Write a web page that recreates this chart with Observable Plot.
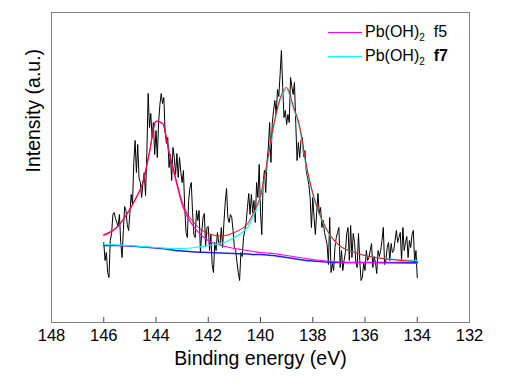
<!DOCTYPE html>
<html><head><meta charset="utf-8">
<script src="https://cdn.jsdelivr.net/npm/d3@7"></script>
<script src="https://cdn.jsdelivr.net/npm/@observablehq/plot@0.6"></script>
<style>
body{margin:0;background:#fff;}
#wrap{position:relative;width:512px;height:381px;font-family:"Liberation Sans",Arial,sans-serif;overflow:hidden;}
.sw{position:absolute;left:328px;width:34px;height:0;}
.lg{position:absolute;left:365px;font-size:16px;line-height:16px;color:#000;white-space:pre;}
.lg sub{font-size:10px;vertical-align:-4px;line-height:0;}
</style>
</head><body><div id="wrap"></div>
<script>
// x ticks
const xTicks = [148, 146, 144, 142, 140, 138, 136, 134, 132];
// raw spectrum: 146.0 -> 134.0 eV, 0.05 eV step (intensity, a.u.)
const rawStart = 146.0, rawStep = 0.05;
const rawIntensity = [
  80, 62, 70, 50, 45, 82, 89, 108, 110, 104,
  100, 96, 108, 80, 65, 92, 116, 112, 98, 92,
  109, 128, 118, 160, 182, 150, 178, 145, 140, 125,
  140, 150, 127, 170, 229, 195, 209, 185, 200, 168,
  192, 165, 200, 218, 229, 219, 225, 190, 179, 185,
  155, 168, 142, 175, 165, 148, 169, 145, 165, 150,
  140, 152, 115, 90, 85, 122, 135, 140, 110, 88,
  85, 112, 102, 112, 70, 90, 105, 109, 76, 95,
  96, 72, 88, 58, 50, 80, 72, 90, 80, 78,
  95, 75, 100, 120, 134, 105, 100, 108, 105, 92,
  75, 72, 60, 50, 42, 70, 66, 85, 92, 100,
  115, 129, 108, 128, 110, 122, 100, 140, 125, 158,
  110, 88, 139, 152, 130, 160, 175, 200, 160, 199,
  212, 222, 208, 233, 226, 248, 272, 235, 205, 212,
  198, 208, 200, 245, 236, 228, 240, 199, 162, 180,
  165, 182, 185, 166, 172, 152, 145, 138, 125, 95,
  125, 105, 88, 110, 129, 109, 115, 95, 102, 90,
  84, 78, 58, 105, 50, 59, 52, 75, 85, 90,
  95, 55, 72, 52, 62, 70, 89, 95, 62, 97,
  65, 89, 80, 60, 55, 89, 62, 42, 45, 60,
  52, 72, 62, 65, 72, 79, 55, 66, 60, 49,
  72, 66, 72, 82, 95, 58, 62, 75, 80, 62,
  79, 70, 72, 82, 92, 80, 85, 90, 62, 95,
  72, 80, 86, 65, 82, 75, 88, 92, 60, 72,
  45
];
// fitted curves sampled at these energies
const fitEnergy = [146, 145.5, 145, 144.75, 144.5, 144.25, 144, 143.75, 143.5, 143.25, 143, 142.5, 142, 141.5, 141, 140.75, 140.5, 140.25, 140, 139.75, 139.5, 139.25, 139, 138.75, 138.5, 138.25, 138, 137.5, 137, 136.5, 136, 135, 134];
const background = [77, 77, 76.5, 76, 75.5, 75, 74.5, 74, 73, 72, 71.5, 70.5, 70, 69.5, 69, 68.7, 68.5, 68, 68, 67.5, 67, 66, 65, 64, 63, 62, 61.5, 60.5, 60, 60, 60, 60, 60];
const f5 = [87, 95, 113, 125, 140, 170, 201, 199, 170, 143, 118, 94, 82, 77, 74, 73, 72, 71, 70, 69.5, 69, 68, 67, 66, 65, 64, 63, 61.5, 60.5, 60, 60, 59.5, 59];
const f7 = [78, 77.5, 77, 76.5, 76, 75.5, 75, 74.5, 74, 74, 74, 75, 77, 79, 85, 89, 95, 108, 125, 158, 195, 222, 233, 215, 194, 156, 128, 94, 77, 71, 67, 63.5, 62];
const envelope = [88, 95.5, 113.5, 125.5, 140.5, 170.5, 201.5, 199.5, 171, 145, 120.5, 98.5, 89, 86.5, 90, 93.3, 98.5, 111, 127, 160, 197, 224, 235, 217, 196, 158, 129.5, 95, 77.5, 71, 67, 63, 61];

const raw = rawIntensity.map((v, i) => ({e: rawStart - rawStep * i, v}));
const fit = fitEnergy.map((e, i) => ({e, bg: background[i], f5: f5[i], f7: f7[i], env: envelope[i]}));

const font = '"Liberation Sans", Arial, sans-serif';
const chart = Plot.plot({
  width: 512, height: 381,
  marginTop: 12, marginBottom: 59, marginLeft: 51, marginRight: 43,
  x: {domain: [148, 132]},
  y: {domain: [0, 310]},
  style: {fontFamily: font, background: "#fff", color: "#000"},
  marks: [
    Plot.ruleX(xTicks.slice(1, -1), {x: d => d, y1: 0, y2: 5, stroke: "#444"}),
    Plot.line(raw, {x: "e", y: "v", stroke: "#000", strokeWidth: 1}),
    Plot.line(fit, {x: "e", y: "bg", stroke: "#2020ff", strokeWidth: 1.5, curve: "monotone-x"}),
    Plot.line(fit, {x: "e", y: "f5", stroke: "#ff00ff", strokeWidth: 1.2, curve: "monotone-x"}),
    Plot.line(fit, {x: "e", y: "f7", stroke: "#00ffff", strokeWidth: 1.2, curve: "monotone-x"}),
    Plot.line(fit, {x: "e", y: "env", stroke: "#ff0000", strokeWidth: 1, curve: "monotone-x"}),
    Plot.frame({stroke: "#808080"}),
    Plot.axisX({ticks: xTicks, tickSize: 0, tickPadding: 7, fontSize: 16.5, label: null, tickFormat: d => String(d)}),
    Plot.axisY({ticks: [], label: null}),
    Plot.text(["Binding energy (eV)"], {frameAnchor: "bottom", dy: 42, fontSize: 19.5, lineAnchor: "bottom", fill: "#000"}),
    Plot.text(["Intensity (a.u.)"], {frameAnchor: "left", dx: -18, dy: 5, rotate: -90, fontSize: 19.5, lineAnchor: "middle", fill: "#000"})
  ]
});
const wrap = document.getElementById("wrap");
wrap.appendChild(chart);
const legend = [
  {label: "f5", color: "#ff00ff", bold: false},
  {label: "f7", color: "#00ffff", bold: true}
];
legend.forEach((d, i) => {
  const sw = document.createElement("div");
  sw.className = "sw";
  sw.style.top = (32 + 23.5 * i) + "px";
  sw.style.borderTop = "1.5px solid " + d.color;
  wrap.appendChild(sw);
  const t = document.createElement("div");
  t.className = "lg";
  t.style.top = (24 + 23.5 * i) + "px";
  t.innerHTML = 'Pb(OH)<sub>2</sub>  <span style="font-weight:' + (d.bold ? "bold" : "normal") + '">' + d.label + '</span>';
  wrap.appendChild(t);
});
</script>
</body></html>
